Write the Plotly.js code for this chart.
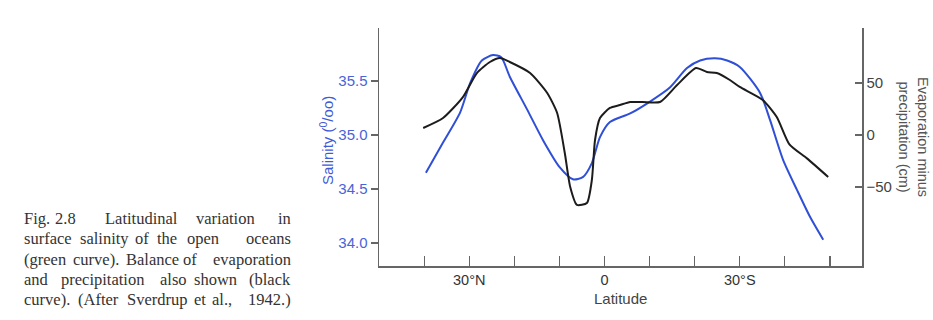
<!DOCTYPE html>
<html>
<head>
<meta charset="utf-8">
<script src="https://cdn.plot.ly/plotly-3.0.1.min.js"></script>
<style>html,body{margin:0;padding:0;background:#fff;}#chart{width:933px;height:320px;}</style>
</head>
<body>
<div id="chart"></div>
<script>
// Latitude in degrees: negative = North, positive = South
const salLat = [-39.6,-35.8,-32.0,-29.8,-27.2,-24.7,-22.9,-21.0,-17.2,-13.6,-9.9,-7.0,-4.8,-2.8,-1.0,1.2,5.7,10.1,14.5,18.3,21.2,24.5,27.2,30.0,34.5,36.7,39.6,42.7,45.6,48.5];
const salinity = [34.65,34.93,35.21,35.48,35.69,35.74,35.72,35.54,35.24,34.95,34.70,34.59,34.61,34.74,34.98,35.12,35.20,35.31,35.44,35.62,35.69,35.71,35.69,35.63,35.39,35.14,34.77,34.49,34.24,34.03];

const epLat = [-40.2,-35.8,-31.4,-28.3,-25.4,-23.2,-21.0,-16.5,-12.7,-10.5,-8.8,-7.6,-6.1,-3.9,-2.8,-2.1,-1.0,1.2,3.4,5.7,8.5,12.3,16.1,20.3,22.7,24.9,27.8,30.0,35.1,38.2,41.0,44.9,49.6];
const evapMinusPrecip = [6.7,16.3,36.5,59.6,70.2,74.0,70.2,59.6,40.4,21.2,-17.3,-50.0,-67.3,-65.4,-43.3,-4.8,16.3,26.0,28.8,31.7,31.7,31.7,48.1,64.4,60.6,59.6,52.9,46.2,33.7,17.3,-9.0,-22.5,-40.4];

const latTicks = [-40,-30,-20,-10,0,10,20,30,40,50];
const latTickText = [' ','30°N',' ',' ','0',' ',' ','30°S',' ',' '];
const salTicks = [34.0,34.5,35.0,35.5];
const salTickText = ['34.0','34.5','35.0','35.5'];
const epTicks = [-50,0,50];
const epTickText = ['−50','0','50'];

const captionLines = [
  ['Fig.','2.8','Latitudinal','variation','in'],
  ['surface','salinity','of','the','open','oceans'],
  ['(green','curve).','Balance','of','evaporation'],
  ['and','precipitation','also','shown','(black'],
  ['curve).','(After','Sverdrup','et','al.,','1942.)']
];
// layout: word centre positions in pixels (first word left-aligned, last word right-aligned)
const captionX = [
  [22,65,141,225.5,293],
  [22,104,142,167,203,293],
  [22,96,152,190,293],
  [22,102.5,173,215,293],
  [22,98.5,157,199.5,221.5,293]
];
const captionY = [218,238,259,279,299];

// plot area in pixels
const L=379, R=862, T=28, B=266;
const px2x = p => (p-L)/(R-L);
const py2y = p => (B-p)/(B-T);

const annotations = [];
captionLines.forEach((line,i)=>{
  line.forEach((w,j)=>{
    const anchor = j===0 ? 'left' : (j===line.length-1 ? 'right' : 'center');
    annotations.push({xref:'paper',yref:'paper',x:px2x(captionX[i][j]),y:py2y(captionY[i]),
      xanchor:anchor,yanchor:'middle',showarrow:false,text:w,
      font:{family:'Liberation Serif, DejaVu Serif, serif',size:16.5,color:'#333'}});
  });
});
annotations.push({xref:'paper',yref:'paper',x:px2x(326),y:py2y(141),showarrow:false,textangle:-90,
  text:'Salinity (<sup>0</sup>/oo)',xanchor:'center',yanchor:'middle',
  font:{family:'Liberation Sans, Arial, sans-serif',size:15,color:'#3f5bd8'}});
annotations.push({xref:'paper',yref:'paper',x:px2x(914),y:py2y(137),showarrow:false,textangle:90,
  text:'Evaporation minus<br>precipitation (cm)',xanchor:'center',yanchor:'middle',
  font:{family:'Liberation Sans, Arial, sans-serif',size:14.5,color:'#555'}});
annotations.push({xref:'paper',yref:'paper',x:px2x(620),y:py2y(298),showarrow:false,
  text:'Latitude',xanchor:'center',yanchor:'middle',
  font:{family:'Liberation Sans, Arial, sans-serif',size:15,color:'#444'}});

const traces = [
  {x:salLat,y:salinity,type:'scatter',mode:'lines',yaxis:'y',
   line:{color:'#2f4fd6',width:2,shape:'spline',smoothing:0.7},hoverinfo:'skip'},
  {x:epLat,y:evapMinusPrecip,type:'scatter',mode:'lines',yaxis:'y2',
   line:{color:'#1c1c1c',width:2,shape:'spline',smoothing:0.6},hoverinfo:'skip'}
];

const layout = {
  width:933,height:320,
  margin:{l:L,r:933-R,t:T,b:320-B,pad:0},
  paper_bgcolor:'#ffffff',plot_bgcolor:'rgba(0,0,0,0)',
  showlegend:false,
  font:{family:'Liberation Sans, Arial, sans-serif'},
  xaxis:{range:[-50,57.1],tickvals:latTicks,ticktext:latTickText,ticks:'inside',ticklen:10,tickwidth:1.2,
    tickcolor:'#666',showline:true,linecolor:'#666',linewidth:1.5,showgrid:false,zeroline:false,
    tickfont:{size:14.5,color:'#333'},fixedrange:true},
  yaxis:{range:[33.787,35.991],tickvals:salTicks,ticktext:salTickText,ticks:'outside',ticklen:7,tickwidth:1.2,
    tickcolor:'#666',showline:true,linecolor:'#666',linewidth:1.5,showgrid:false,zeroline:false,
    tickfont:{size:15,color:'#4a63d8'},fixedrange:true},
  yaxis2:{range:[-126,102.9],overlaying:'y',side:'right',tickvals:epTicks,ticktext:epTickText,
    ticks:'inside',ticklen:7,tickwidth:1.2,tickcolor:'#666',showline:true,linecolor:'#666',linewidth:1.5,
    showgrid:false,zeroline:false,tickfont:{size:15,color:'#444'},fixedrange:true},
  annotations:annotations
};

Plotly.newPlot('chart',traces,layout,{staticPlot:true,displayModeBar:false});
</script>
</body>
</html>
